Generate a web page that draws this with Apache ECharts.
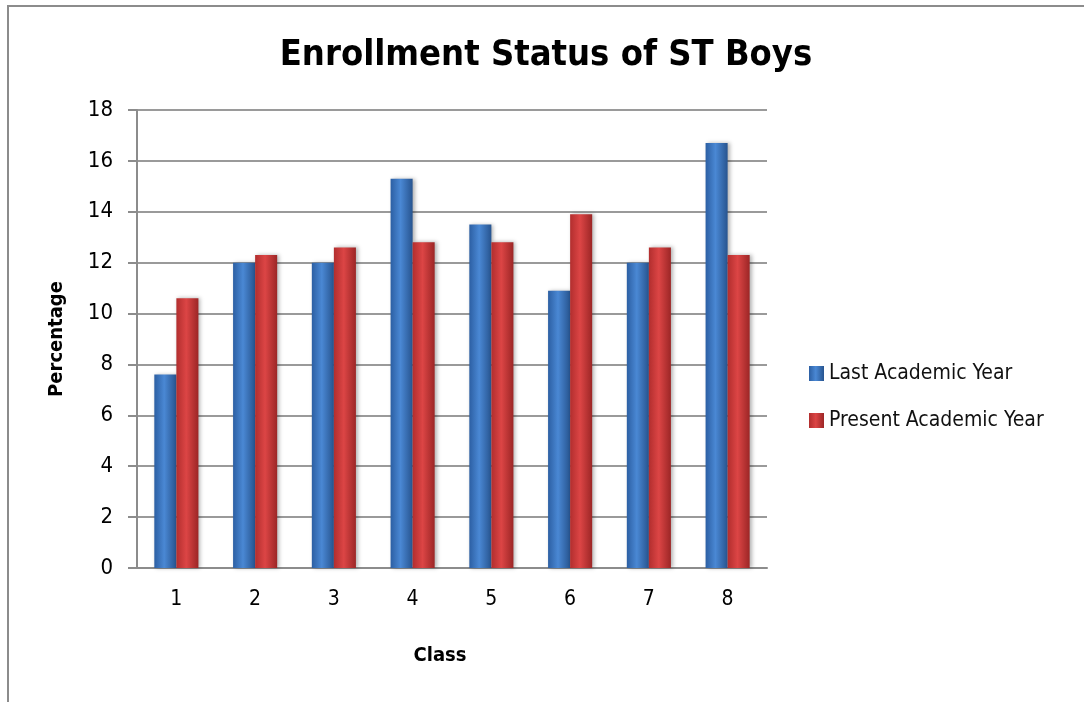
<!DOCTYPE html>
<html>
<head>
<meta charset="utf-8">
<script src="https://cdn.jsdelivr.net/npm/echarts@6/dist/echarts.min.js"></script>
<style>
html, body { margin: 0; padding: 0; background: #fff; }
#frame {
  position: absolute; left: 7px; top: 5px; width: 1090px; height: 710px;
  border-top: 2px solid #8c8c8c; border-left: 2px solid #8c8c8c;
}
#chart { position: absolute; left: 0; top: 0; width: 1084px; height: 702px; }
</style>
</head>
<body>
<div id="frame"></div>
<div id="chart"></div>
<script>
// data
const classes = ['1', '2', '3', '4', '5', '6', '7', '8']
const lastYear = [7.6, 12.0, 12.0, 15.3, 13.5, 10.9, 12.0, 16.7]
const presentYear = [10.6, 12.3, 12.6, 12.8, 12.8, 13.9, 12.6, 12.3]
const yTicks = [0, 2, 4, 6, 8, 10, 12, 14, 16, 18]

const FONT = "'Liberation Sans Narrow', 'DejaVu Sans Condensed', 'Liberation Sans', sans-serif"

// horizontal gradient gives the bevelled look of the bars
const barFill = (dark, mid, edge) => new echarts.graphic.LinearGradient(0, 0, 1, 0, [
  { offset: 0, color: dark },
  { offset: 0.45, color: mid },
  { offset: 1, color: edge }
])

const chart = echarts.init(document.getElementById('chart'))
chart.setOption({
  animation: false,
  textStyle: { fontFamily: FONT },
  title: {
    text: 'Enrollment Status of ST Boys',
    left: 541,
    top: 33,
    textAlign: 'center',
    textStyle: { fontFamily: FONT, fontSize: 36, fontWeight: 'bold', color: '#000' }
  },
  legend: {
    orient: 'vertical',
    left: 804,
    top: 358,
    itemWidth: 15,
    itemHeight: 15,
    itemGap: 26,
    icon: 'rect',
    textStyle: { fontFamily: FONT, fontSize: 21, color: '#111' },
    data: ['Last Academic Year', 'Present Academic Year']
  },
  grid: { left: 137, right: 317, top: 110, bottom: 134 },
  xAxis: {
    type: 'category',
    data: classes,
    name: 'Class',
    nameLocation: 'middle',
    nameGap: 78,
    nameTextStyle: { fontFamily: FONT, fontSize: 20, fontWeight: 'bold', color: '#000', padding: [0, 24, 0, 0] },
    axisLine: { lineStyle: { color: '#8c8c8c', width: 2 } },
    axisTick: { show: false },
    axisLabel: { fontFamily: FONT, fontSize: 21, color: '#000', margin: 21 }
  },
  yAxis: {
    type: 'value',
    min: yTicks[0],
    max: yTicks[yTicks.length - 1],
    interval: 2,
    name: 'Percentage',
    nameLocation: 'middle',
    nameGap: 70,
    nameTextStyle: { fontFamily: FONT, fontSize: 20, fontWeight: 'bold', color: '#000' },
    axisLine: { show: true, lineStyle: { color: '#8c8c8c', width: 2 } },
    axisTick: { show: true, length: 9, lineStyle: { color: '#8c8c8c', width: 2 } },
    axisLabel: { fontFamily: FONT, fontSize: 22, color: '#000', margin: 24 },
    splitLine: { lineStyle: { color: '#9a9a9a', width: 2 } }
  },
  series: [
    {
      name: 'Last Academic Year',
      type: 'bar',
      data: lastYear,
      barGap: '0%',
      barCategoryGap: '44%',
      itemStyle: {
        color: barFill('#2c5fa3', '#4a88d4', '#27548f'),
        shadowColor: 'rgba(0,0,0,0.3)',
        shadowBlur: 4,
        shadowOffsetX: 2
      }
    },
    {
      name: 'Present Academic Year',
      type: 'bar',
      data: presentYear,
      itemStyle: {
        color: barFill('#b22e2e', '#dc4545', '#9c2626'),
        shadowColor: 'rgba(0,0,0,0.3)',
        shadowBlur: 4,
        shadowOffsetX: 2
      }
    }
  ]
})
</script>
</body>
</html>
